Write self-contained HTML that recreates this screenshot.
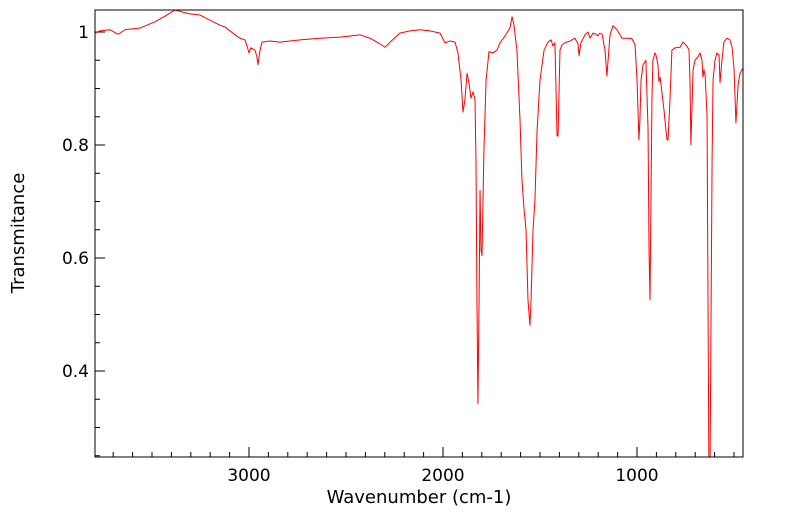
<!DOCTYPE html>
<html><head><meta charset="utf-8"><style>
html,body{margin:0;padding:0;background:#fff;}
svg{display:block;font-family:"DejaVu Sans","Liberation Sans",sans-serif;}
</style></head><body>
<svg id="chart" width="799" height="516" viewBox="0 0 799 516" xmlns="http://www.w3.org/2000/svg">
<defs><clipPath id="clip"><rect x="95" y="10" width="648" height="447"/></clipPath></defs>
<rect x="0" y="0" width="799" height="516" fill="#fff"/>
<g id="ticks"></g>
<path id="series" clip-path="url(#clip)" fill="none" stroke="#ff0000" stroke-width="1" stroke-linejoin="round"/>
<rect x="95" y="10" width="648" height="447" fill="none" stroke="#000" stroke-width="1"/>
<text x="419" y="503" font-size="18" text-anchor="middle">Wavenumber (cm-1)</text>
<text transform="translate(24,233) rotate(-90)" font-size="18" text-anchor="middle">Transmitance</text>
</svg>
<script>
const wavenumbers=[3794,3768,3717,3675,3639,3562,3485,3433,3381,3340,3304,3253,3201,3150,3124,3072,3046,3021,3010,3000,2990,2969,2959,2954,2943,2933,2892,2840,2737,2634,2531,2479,2428,2376,2325,2299,2273,2222,2170,2119,2067,2015,1990,1964,1938,1923,1907,1897,1887,1876,1866,1856,1845,1835,1830,1825,1820,1814,1809,1804,1799,1789,1778,1763,1742,1722,1706,1680,1655,1644,1634,1619,1603,1593,1582,1572,1562,1552,1546,1536,1526,1515,1500,1479,1459,1443,1433,1423,1412,1407,1397,1387,1371,1345,1320,1304,1299,1289,1268,1253,1242,1227,1211,1201,1191,1180,1165,1155,1149,1139,1124,1103,1077,1046,1026,1010,1000,995,990,985,979,969,954,943,938,933,928,923,918,907,902,892,887,881,876,861,851,845,840,830,820,804,778,763,742,732,727,722,711,701,686,675,665,660,655,649,639,629,624,613,608,598,588,577,572,562,552,536,521,510,500,490,479,469,454];
const transmittance=[0.998,1.002,1.004,0.996,1.004,1.007,1.018,1.028,1.039,1.035,1.032,1.030,1.021,1.012,1.009,0.995,0.989,0.986,0.975,0.963,0.972,0.968,0.956,0.942,0.968,0.982,0.984,0.982,0.986,0.989,0.991,0.993,0.995,0.989,0.979,0.973,0.982,0.998,1.002,1.004,1.002,0.998,0.981,0.984,0.982,0.963,0.915,0.858,0.880,0.927,0.910,0.883,0.894,0.880,0.773,0.526,0.342,0.526,0.720,0.614,0.604,0.791,0.915,0.965,0.963,0.968,0.981,0.993,1.007,1.027,1.012,0.968,0.844,0.738,0.685,0.650,0.526,0.481,0.526,0.650,0.703,0.827,0.915,0.968,0.982,0.986,0.975,0.981,0.816,0.816,0.968,0.977,0.981,0.984,0.989,0.979,0.958,0.981,0.995,1.000,0.989,0.998,0.996,0.993,0.998,0.996,0.968,0.922,0.950,0.995,1.011,1.004,0.989,0.989,0.988,0.977,0.915,0.862,0.809,0.844,0.915,0.942,0.950,0.827,0.614,0.526,0.703,0.880,0.950,0.963,0.959,0.942,0.912,0.920,0.906,0.862,0.827,0.809,0.809,0.880,0.968,0.972,0.973,0.982,0.975,0.968,0.915,0.800,0.933,0.950,0.956,0.963,0.950,0.920,0.933,0.924,0.853,0.2,0.2,0.773,0.915,0.950,0.963,0.959,0.910,0.950,0.982,0.989,0.986,0.973,0.936,0.839,0.906,0.927,0.936];
const xMajorTicks=[3000,2000,1000];
const yMajorTicks=[0.4,0.6,0.8,1.0];
const yTickLabels=["0.4","0.6","0.8","1"];

function xs(w){return 443+(2000-w)*0.194;}
function ys(t){return 32+(1-t)*565;}
const NS="http://www.w3.org/2000/svg";
const g=document.getElementById('ticks');
function line(x1,y1,x2,y2){const l=document.createElementNS(NS,'line');l.setAttribute('x1',x1);l.setAttribute('y1',y1);l.setAttribute('x2',x2);l.setAttribute('y2',y2);l.setAttribute('stroke','#000');l.setAttribute('stroke-width','1');


g.appendChild(l);}
for(let w=3700;w>=500;w-=100){const x=xs(w);const major=(w%1000===0);line(x,457,x,major?447:452);}
xMajorTicks.forEach(w=>{const t=document.createElementNS(NS,'text');t.setAttribute('x',xs(w));t.setAttribute('y',481);t.setAttribute('font-size','17');t.setAttribute('text-anchor','middle');t.textContent=String(w);


g.appendChild(t);});
for(let k=5;k<=20;k++){const v=k*0.05;const y=ys(v);if(y<10||y>457)continue;const major=(k%4===0);line(95,y,major?105:100,y);}
yMajorTicks.forEach((v,i)=>{const t=document.createElementNS(NS,'text');t.setAttribute('x',89);t.setAttribute('y',ys(v)+6);t.setAttribute('font-size','17');t.setAttribute('text-anchor','end');t.textContent=yTickLabels[i];


g.appendChild(t);});
let d='';
wavenumbers.forEach((w,i)=>{d+=(i?'L':'M')+xs(w).toFixed(2)+' '+ys(transmittance[i]).toFixed(2);});
document.getElementById('series').setAttribute('d',d);
</script>
</body></html>
